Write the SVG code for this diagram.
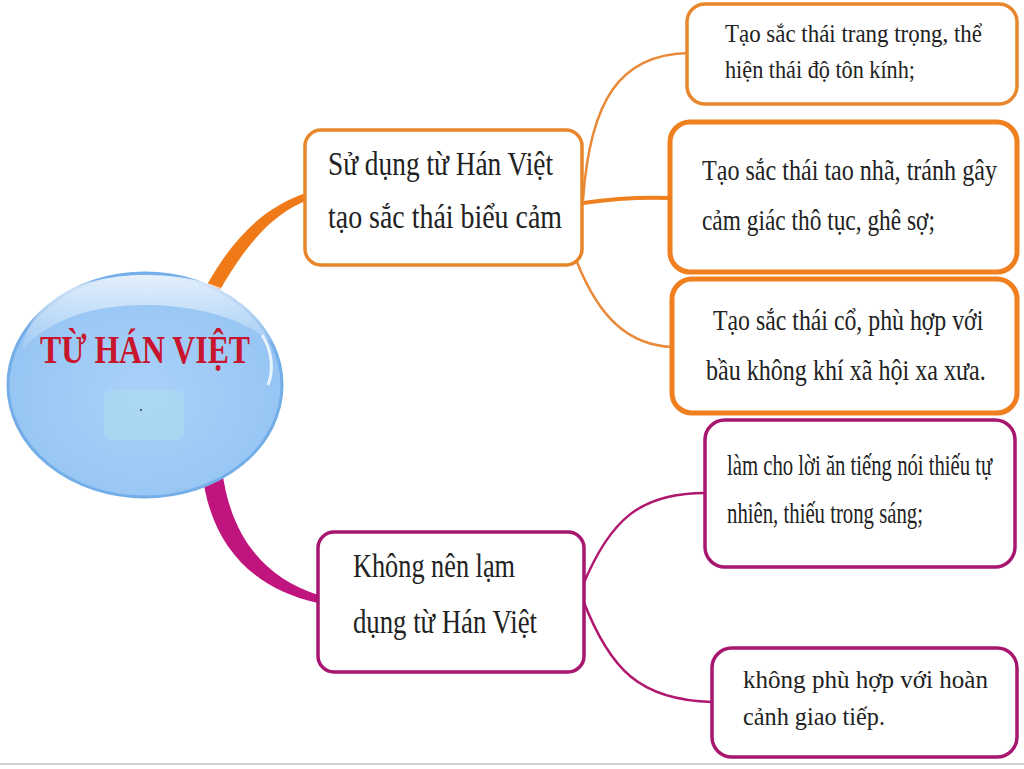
<svg xmlns="http://www.w3.org/2000/svg" width="1024" height="769" viewBox="0 0 1024 769">
<defs>
<radialGradient id="gBlue" cx="0.5" cy="0.55" r="0.6">
<stop offset="0" stop-color="#a9d2f8"/>
<stop offset="0.8" stop-color="#98c6f4"/>
<stop offset="1" stop-color="#8cbcf0"/>
</radialGradient>
<linearGradient id="gGloss" x1="0" y1="0" x2="0" y2="1">
<stop offset="0" stop-color="#ffffff" stop-opacity="0.75"/>
<stop offset="1" stop-color="#ffffff" stop-opacity="0.1"/>
</linearGradient>
<style>
.t{font-family:"Liberation Serif","Times New Roman",serif;fill:#222}
.bo{fill:#fff;stroke:#e8862c;stroke-width:3.5}
.bo2{fill:#fff;stroke:#ef7f1f;stroke-width:5}
.bm{fill:#fff;stroke:#a8176f;stroke-width:3.5}
.co{fill:none;stroke:#e88a3a;stroke-width:2.5}
.cm{fill:none;stroke:#b0186f;stroke-width:2.5}
</style>
</defs>
<rect width="1024" height="769" fill="#fff"/>
<line x1="0" y1="764" x2="1024" y2="764" stroke="#cfcfcf" stroke-width="2"/>
<g id="connectors">
<path d="M206,286.6 C234,236 266,206 306.8,192.7 L309.2,199.3 C272,214 246,244 218,293.4 Z" fill="#f07a18"/>
<path d="M202,471 C210,545 252,588 316.9,602.8 L319.1,595.2 C264,578 230,536 222,469 Z" fill="#c0157e"/>
<path class="co" d="M583,200 C590,100 620,55 687,53"/>
<path d="M583,203 C610,199 640,197 670,198" fill="none" stroke="#ef7f1f" stroke-width="4"/>
<path class="co" d="M577,262 C600,320 630,345 672,347"/>
<path class="cm" d="M583,585 C610,520 640,493 705,493"/>
<path class="cm" d="M583,600 C610,670 640,700 712,702"/>
</g>
<g id="root">
<ellipse cx="145" cy="385" rx="137" ry="112" fill="url(#gBlue)" stroke="#74aee8" stroke-width="3"/>
<path d="M22,350 C30,300 80,275 145,275 C215,275 265,300 275,345 C240,315 190,305 145,305 C95,305 50,318 22,350 Z" fill="url(#gGloss)"/>
<path d="M262,335 C272,350 274,370 268,385" fill="none" stroke="#ffffff" stroke-opacity="0.8" stroke-width="3"/>
<rect x="104" y="390" width="80" height="50" rx="8" fill="#aee0f0" opacity="0.5"/>
<circle cx="141" cy="410" r="1" fill="#334"/>
<text x="40" y="363" font-family="Liberation Serif,Times New Roman,serif" font-weight="bold" font-size="40" fill="#c8142c" textLength="210" lengthAdjust="spacingAndGlyphs">TỪ HÁN VIỆT</text>
</g>
<g id="n1">
<rect class="bo" x="305" y="130" width="277" height="135" rx="16"/>
<text class="t" font-size="33" x="328" y="175" textLength="225" lengthAdjust="spacingAndGlyphs">Sử dụng từ Hán Việt</text>
<text class="t" font-size="33" x="328" y="228" textLength="234" lengthAdjust="spacingAndGlyphs">tạo sắc thái biểu cảm</text>
</g>
<g id="n1a">
<rect class="bo" x="687" y="4" width="330" height="100" rx="18"/>
<text class="t" font-size="25" x="725" y="42" textLength="257" lengthAdjust="spacingAndGlyphs">Tạo sắc thái trang trọng, thể</text>
<text class="t" font-size="25" x="725" y="78" textLength="190" lengthAdjust="spacingAndGlyphs">hiện thái độ tôn kính;</text>
</g>
<g id="n1b">
<rect class="bo2" x="670" y="122" width="347" height="150" rx="20"/>
<text class="t" font-size="29" transform="translate(702,180) scale(0.85,1)" x="0" y="0" textLength="347" lengthAdjust="spacingAndGlyphs">Tạo sắc thái tao nhã, tránh gây</text>
<text class="t" font-size="29" transform="translate(702,230) scale(0.85,1)" x="0" y="0" textLength="274" lengthAdjust="spacingAndGlyphs">cảm giác thô tục, ghê sợ;</text>
</g>
<g id="n1c">
<rect class="bo2" x="672" y="279" width="345" height="134" rx="20"/>
<text class="t" font-size="29" transform="translate(713,330) scale(0.85,1)" x="0" y="0" textLength="318" lengthAdjust="spacingAndGlyphs">Tạo sắc thái cổ, phù hợp với</text>
<text class="t" font-size="29" transform="translate(706,380) scale(0.85,1)" x="0" y="0" textLength="329" lengthAdjust="spacingAndGlyphs">bầu không khí xã hội xa xưa.</text>
</g>
<g id="n2">
<rect class="bm" x="318" y="532" width="266" height="140" rx="16"/>
<text class="t" font-size="34" x="353" y="577" textLength="162" lengthAdjust="spacingAndGlyphs">Không nên lạm</text>
<text class="t" font-size="34" x="353" y="633" textLength="184" lengthAdjust="spacingAndGlyphs">dụng từ Hán Việt</text>
</g>
<g id="n2a">
<rect class="bm" x="705" y="420" width="310" height="147" rx="20"/>
<text class="t" font-size="30" transform="translate(727,475) scale(0.7,1)" x="0" y="0" textLength="379" lengthAdjust="spacingAndGlyphs">làm cho lời ăn tiếng nói thiếu tự</text>
<text class="t" font-size="30" transform="translate(727,523) scale(0.7,1)" x="0" y="0" textLength="280" lengthAdjust="spacingAndGlyphs">nhiên, thiếu trong sáng;</text>
</g>
<g id="n2b">
<rect class="bm" x="712" y="648" width="305" height="109" rx="20"/>
<text class="t" font-size="26" x="743" y="688" textLength="245" lengthAdjust="spacingAndGlyphs">không phù hợp với hoàn</text>
<text class="t" font-size="26" x="743" y="725" textLength="142" lengthAdjust="spacingAndGlyphs">cảnh giao tiếp.</text>
</g>
</svg>
